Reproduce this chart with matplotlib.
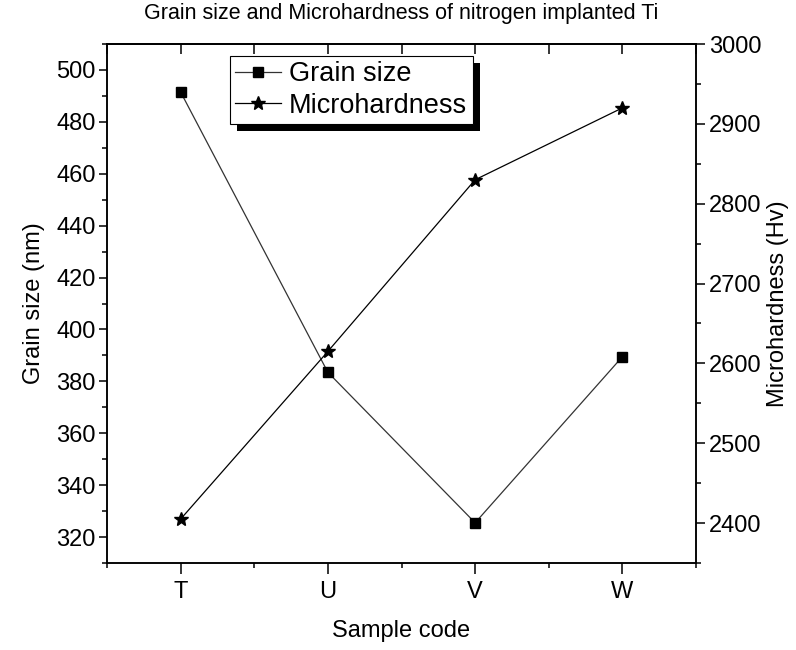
import matplotlib.pyplot as plt
from matplotlib.patches import Rectangle
from matplotlib.transforms import IdentityTransform
from matplotlib.ticker import MultipleLocator
import numpy as np

plt.rcParams['font.family'] = ['Liberation Sans', 'DejaVu Sans']

# data
samples = ['T', 'U', 'V', 'W']
grain_size = [491.5, 383.5, 325.5, 389.5]
microhardness = [2405, 2615, 2830, 2920]

x = np.arange(len(samples))

fig = plt.figure(figsize=(7.96, 6.5), dpi=100)
ax = fig.add_axes([0.1344, 0.1338, 0.74, 0.7985])
ax2 = ax.twinx()

l1, = ax.plot(x, grain_size, color='#333333', lw=0.9, marker='s', ms=6.5,
              mfc='k', mec='k', label='Grain size')
l2, = ax2.plot(x, microhardness, color='k', lw=0.9, marker='*', ms=10,
               mfc='k', mec='k', label='Microhardness')

ax.set_xlim(-0.5, 3.5)
ax.set_ylim(310, 510)
ax2.set_ylim(2350, 3000)

ax.set_xticks(x)
ax.set_xticklabels(samples)
ax.xaxis.set_minor_locator(MultipleLocator(0.5))
ax.yaxis.set_major_locator(MultipleLocator(20))
ax.yaxis.set_minor_locator(MultipleLocator(10))
ax2.yaxis.set_major_locator(MultipleLocator(100))
ax2.yaxis.set_minor_locator(MultipleLocator(50))

for a in (ax, ax2):
    for s in a.spines.values():
        s.set_linewidth(1.1)

ax.tick_params(axis='both', which='major', labelsize=17, length=6, width=1.1,
               direction='out', pad=2)
ax.tick_params(axis='both', which='minor', length=3.5, width=1.1, direction='out')
ax.tick_params(axis='x', which='major', length=8, pad=5)
ax2.tick_params(axis='y', which='major', labelsize=17, length=6.5, width=1.1,
                direction='out', pad=3)
ax2.tick_params(axis='y', which='minor', length=3.5, width=1.1, direction='out')

# top ticks point inwards, same length for major and minor
sec = ax.secondary_xaxis('top')
sec.set_xticks(np.arange(-0.5, 3.6, 0.5))
sec.tick_params(direction='in', length=7, width=1.1, labeltop=False)
sec.spines['top'].set_linewidth(1.1)

ax.set_xlabel('Sample code', fontsize=17, labelpad=12)
ax.set_ylabel('Grain size (nm)', fontsize=17, labelpad=8)
ax2.set_ylabel('Microhardness (Hv)', fontsize=17, labelpad=4)
ax.set_title('Grain size and Microhardness of nitrogen implanted Ti',
             fontsize=15.5, pad=18)

leg = ax2.legend(handles=[l1, l2], loc='upper left',
                 bbox_to_anchor=(0.208, 0.977), fontsize=19.5, frameon=True,
                 fancybox=False, edgecolor='k', framealpha=1,
                 handlelength=1.7, handletextpad=0.3, borderpad=0.2,
                 labelspacing=0.2, borderaxespad=0)
leg.get_frame().set_linewidth(0.8)
leg.set_zorder(10)

fig.canvas.draw()
bb = leg.get_window_extent()
shadow = Rectangle((bb.x0 + 7, bb.y0 - 7), bb.width, bb.height,
                   transform=IdentityTransform(), facecolor='k',
                   edgecolor='none', zorder=9, clip_on=False)
ax2.add_artist(shadow)

fig.savefig('out.png', dpi=100)
